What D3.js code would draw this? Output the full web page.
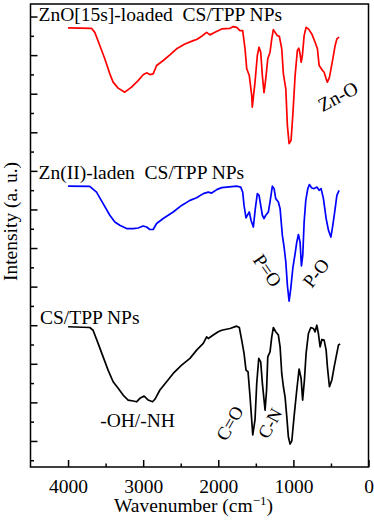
<!DOCTYPE html>
<html>
<head>
<meta charset="utf-8">
<script src="https://cdn.jsdelivr.net/npm/d3@7"></script>
<style>
  html, body { margin: 0; padding: 0; background: #fff; }
  svg { display: block; }
  text { font-family: "Liberation Serif", "Times New Roman", serif; fill: #000; white-space: pre; }
</style>
</head>
<body>
<svg id="chart" width="374" height="521"></svg>
<script>
// ---------------- data ----------------
const xTickValues = [4000, 3000, 2000, 1000, 0];
const xMinorTicks = [3500, 2500, 1500, 500];
const yMajorTicks = [1, 3, 5, 7, 9, 11, 13, 15, 17, 19, 21, 23];
const yMinorTicks = [0, 2, 4, 6, 8, 10, 12, 14, 16, 18, 20, 22];

const seriesNames = ["ZnO[15s]-loaded  CS/TPP NPs", "Zn(II)-laden  CS/TPP NPs", "CS/TPP NPs"];
const seriesColors = ["#ff0000", "#0000ff", "#000000"];

// ZnO[15s]-loaded CS/TPP NPs (red)
const redWn = [4000,3688,3644,3577,3511,3444,3400,3333,3244,3155,3067,3000,2955,2911,2867,2821,2733,2644,2555,2444,2333,2288,2221,2155,2111,2044,1955,1844,1800,1755,1711,1675,1644,1621,1587,1555,1547,1511,1480,1457,1435,1413,1391,1368,1341,1311,1288,1267,1244,1213,1187,1155,1133,1101,1080,1057,1031,1008,977,947,928,911,897,880,857,831,800,755,711,680,657,621,591,564,547,520,475,444,421,391];
const redI = [22.41,22.39,22.18,21.50,20.81,20.03,19.60,19.29,19.08,19.34,19.68,19.98,20.08,19.99,20.03,20.46,20.72,21.01,21.33,21.58,21.75,21.81,21.98,22.18,22.05,22.18,22.36,22.39,22.48,22.44,22.27,22.27,21.33,20.29,19.94,18.91,18.30,19.60,20.98,21.41,21.15,19.94,19.05,19.77,20.81,21.15,21.84,22.32,22.18,22.01,21.98,21.33,20.03,19.25,17.36,16.41,16.58,17.87,19.94,21.24,21.36,21.07,20.63,20.98,22.01,22.44,22.36,22.10,21.67,21.33,20.46,20.25,20.11,19.77,19.60,19.85,20.81,21.50,21.84,21.93];

// Zn(II)-laden CS/TPP NPs (blue)
const blueWn = [4000,3711,3621,3533,3444,3377,3311,3221,3133,3067,3000,2955,2911,2867,2821,2733,2600,2488,2377,2288,2200,2133,2088,2021,1955,1888,1755,1701,1675,1657,1631,1608,1587,1564,1533,1507,1480,1457,1435,1413,1391,1368,1333,1311,1280,1257,1235,1200,1177,1147,1124,1101,1080,1057,1035,1008,977,955,933,911,893,875,857,835,808,787,755,724,688,657,631,600,564,533,501,475,444,421,391];
const blueI = [14.21,14.20,13.90,13.30,12.70,12.35,12.18,12.01,12.01,12.04,12.14,12.09,11.96,11.96,12.27,12.53,12.87,13.21,13.47,13.61,13.82,13.90,13.85,14.03,14.13,14.16,14.21,14.16,13.90,13.21,12.56,12.73,12.87,12.44,12.09,13.04,13.82,13.73,13.21,12.70,12.53,12.70,12.87,13.39,14.21,14.08,13.56,13.39,13.04,11.66,11.06,10.28,9.07,8.25,8.90,9.94,10.71,11.31,11.70,11.31,10.07,10.63,12.35,13.47,14.08,14.29,14.11,14.08,14.16,13.99,14.08,13.56,12.53,11.92,11.57,12.18,13.04,13.73,13.99];

// CS/TPP NPs (black)
const blackWn = [4000,3711,3667,3600,3533,3467,3400,3333,3267,3200,3133,3088,3044,2987,2933,2875,2844,2777,2688,2600,2488,2377,2288,2200,2155,2133,2067,2000,1955,1844,1755,1720,1688,1657,1631,1604,1577,1555,1541,1511,1488,1461,1435,1413,1377,1357,1341,1311,1288,1267,1235,1200,1177,1155,1133,1111,1088,1067,1044,1021,991,955,924,897,877,853,831,800,768,733,711,688,667,644,621,591,564,547,520,488,457,431,400,377];
const blackI = [6.92,6.88,6.74,6.06,5.36,4.67,4.07,3.73,3.38,3.12,3.07,3.03,3.21,3.33,3.12,3.03,3.16,3.64,4.07,4.50,4.93,5.28,5.71,6.06,6.40,6.31,6.49,6.66,6.74,6.83,6.95,6.88,6.23,5.54,4.67,4.59,3.29,2.09,1.31,2.09,3.99,5.28,5.10,3.99,2.60,3.64,5.36,5.62,6.40,6.88,6.66,6.49,5.88,4.50,3.81,3.29,2.26,1.22,0.84,1.00,2.26,3.64,4.73,4.24,3.12,4.16,5.54,6.57,6.88,6.83,6.66,7.00,6.57,5.88,6.26,6.23,5.71,4.84,3.81,4.16,4.84,5.36,5.97,6.02];

const series = [
  { wn: redWn, val: redI },
  { wn: blueWn, val: blueI },
  { wn: blackWn, val: blackI }
];

// peak annotations
const peakLabels = ["Zn-O", "P=O", "P-O", "-OH/-NH", "C=O", "C-N"];

// ---------------- layout ----------------
const svg = d3.select("#chart");
const L = 30.5, R = 368.5, T = 4, B = 467;
const FONT = 19.5;

const x = d3.scaleLinear().domain([4500, 0]).range([L, R]);
const y = d3.scaleLinear().domain([-0.35, 23.65]).range([B, T]);

// frame
svg.append("rect")
  .attr("x", L).attr("y", T).attr("width", R - L).attr("height", B - T)
  .attr("fill", "none").attr("stroke", "#000").attr("stroke-width", 1.5);

// x axis (major ticks + labels)
const gx = svg.append("g").attr("transform", `translate(0,${B})`)
  .call(d3.axisBottom(x).tickValues(xTickValues).tickSize(-7).tickPadding(12).tickFormat(d3.format("d")));
gx.select(".domain").remove();
gx.selectAll(".tick line").attr("stroke", "#000").attr("stroke-width", 1.5);
gx.selectAll(".tick text").attr("font-size", FONT).attr("font-family", null);

// x minor
const gx2 = svg.append("g").attr("transform", `translate(0,${B})`)
  .call(d3.axisBottom(x).tickValues(xMinorTicks).tickSize(-3.5).tickFormat(""));
gx2.select(".domain").remove();
gx2.selectAll(".tick line").attr("stroke", "#000").attr("stroke-width", 1.5);

// y axis major/minor (no labels)
const gy = svg.append("g").attr("transform", `translate(${L},0)`)
  .call(d3.axisLeft(y).tickValues(yMajorTicks).tickSize(-7).tickFormat(""));
gy.select(".domain").remove();
gy.selectAll(".tick line").attr("stroke", "#000").attr("stroke-width", 1.5);
const gy2 = svg.append("g").attr("transform", `translate(${L},0)`)
  .call(d3.axisLeft(y).tickValues(yMinorTicks).tickSize(-3.5).tickFormat(""));
gy2.select(".domain").remove();
gy2.selectAll(".tick line").attr("stroke", "#000").attr("stroke-width", 1.5);

// curves
const line = d3.line().x(d => x(d[0])).y(d => y(d[1])).curve(d3.curveLinear);
series.forEach((s, i) => {
  const pts = s.wn.map((w, j) => [w, s.val[j]]);
  svg.append("path").datum(pts)
    .attr("d", line)
    .attr("fill", "none")
    .attr("stroke", seriesColors[i])
    .attr("stroke-width", 1.7)
    .attr("stroke-linejoin", "round");
});

// series labels
const seriesLabelPos = [[38.5, 21], [38.5, 179], [40, 323.5]];
seriesNames.forEach((n, i) => {
  svg.append("text")
    .attr("x", seriesLabelPos[i][0]).attr("y", seriesLabelPos[i][1])
    .attr("font-size", FONT)
    .text(n);
});

// peak labels (center positions + rotation)
const peakPos = [
  { cx: 338, cy: 96.5, rot: -28, fs: 19.5 },
  { cx: 267.5, cy: 270.5, rot: 55, fs: 19 },
  { cx: 316, cy: 273, rot: -52, fs: 19 },
  { cx: 137.5, cy: 420.5, rot: 0, fs: 19.5 },
  { cx: 230, cy: 423.3, rot: -60, fs: 18.5 },
  { cx: 270, cy: 423.3, rot: -62, fs: 18 }
];
peakLabels.forEach((t, i) => {
  const p = peakPos[i];
  svg.append("text")
    .attr("transform", `translate(${p.cx},${p.cy}) rotate(${p.rot})`)
    .attr("text-anchor", "middle")
    .attr("dominant-baseline", "central")
    .attr("font-size", p.fs)
    .text(t);
});

// axis titles
const xt = svg.append("text")
  .attr("x", 193.5).attr("y", 512)
  .attr("text-anchor", "middle")
  .attr("font-size", FONT);
xt.append("tspan").text("Wavenumber (cm");
xt.append("tspan").attr("dy", -7).attr("font-size", 13).text("\u22121");
xt.append("tspan").attr("dy", 7).text(")");

svg.append("text")
  .attr("transform", "translate(17,221.5) rotate(-90)")
  .attr("text-anchor", "middle")
  .attr("font-size", FONT)
  .text("Intensity (a. u.)");
</script>
</body>
</html>
